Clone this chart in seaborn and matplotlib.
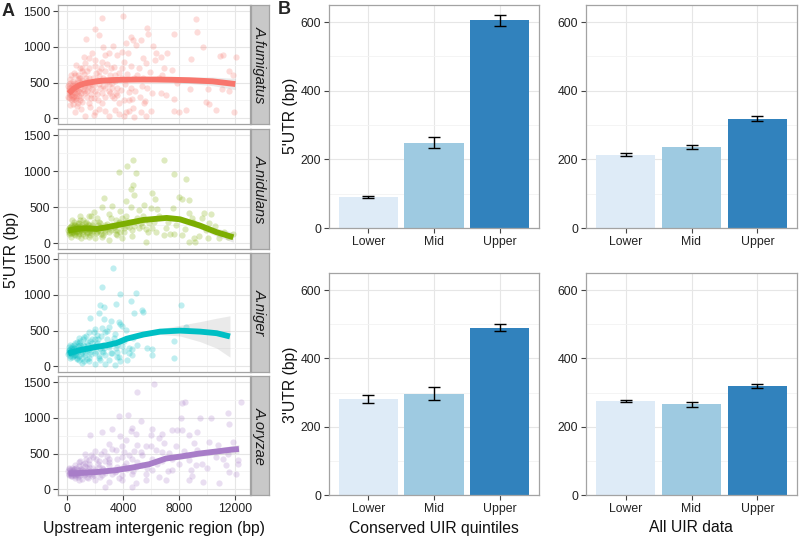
import numpy as np
import matplotlib
matplotlib.use('Agg')
import matplotlib.pyplot as plt
import seaborn as sns
from matplotlib.ticker import FixedLocator

sns.set_theme(style='white')
plt.rcParams['font.family'] = ['Liberation Sans', 'DejaVu Sans']

# ---------------- data: panel A (scatter) ----------------
species = ['A.fumigatus', 'A.nidulans', 'A.niger', 'A.oryzae']
species_colors = ['#F8766D', '#7CAE00', '#00BFC4', '#A87DC8']

fum_x = [2510, 3990, 1985, 2270, 1360, 5740, 5810, 9200, 9320, 7650, 4540, 4710, 4250, 4900, 5260, 6140,
         2580, 3270, 3900, 2750, 1790, 1550, 2990, 3540, 4370, 5420, 6330, 6690, 7170, 6270, 9730, 8870,
         10910, 11110, 12070, 645, 1075, 480, 2030, 2510, 4060, 4540, 5140, 5660, 6930, 6810, 7530, 1550,
         2270, 3420, 3940, 4780, 6570, 11590, 11830, 240, 2750, 3590, 5380, 7890, 8770, 10040, 11070, 11590,
         760, 1310, 2150, 3230, 3350, 4420, 6090, 6690, 4660, 7050, 7650, 9920, 10160, 480, 1075, 1550,
         2510, 3710, 4060, 5500, 5570, 1670, 2270, 2750, 3420, 4420, 4710, 5260, 5980, 7650, 8010, 8530,
         10640, 11950, 1310, 1910, 2990, 4060, 4780, 5620, 120, 170, 240, 360, 310, 410, 550, 720, 840,
         955, 790, 1195, 1430, 1790, 1670, 2030, 2270, 1910, 2510, 2990, 2870, 3230, 3470, 760, 955, 1310,
         1195, 2030, 2270, 2750, 3110, 1430, 720, 1030, 600, 2030, 3710, 4180, 170, 70, 480, 645,
         200, 300, 400, 500, 350, 150, 250, 600, 700, 900, 1000, 1100, 1200, 1400, 1600, 800, 300, 100, 450, 650,
         250, 400, 550, 700, 850, 950, 1100, 1250, 1300, 1450, 1600, 1700, 1850, 1950, 2100, 2200, 2350, 2450,
         2600, 2700, 2850, 3000, 3100, 3250, 3350, 3450, 3600, 3750, 3850, 3950, 4150, 4300, 4450, 4600, 4850,
         5000, 5200, 5450, 5700, 5900, 150, 200, 300, 350, 450, 520, 600, 680, 780, 880, 980, 1150, 1050, 1380,
         1500, 1700, 1820, 2150, 2550, 3100]
fum_y = [1408, 1435, 1256, 1164, 1118, 1270, 1178, 1390, 1210, 1178, 1140, 1104, 1058, 1026, 1095, 1017,
         1003, 1012, 934, 888, 920, 842, 911, 888, 911, 842, 911, 865, 920, 819, 994, 828,
         874, 888, 856, 750, 658, 635, 727, 796, 796, 727, 704, 773, 704, 612, 681, 566,
         589, 612, 566, 566, 566, 658, 612, 497, 428, 428, 451, 497, 414, 414, 414, 382,
         382, 359, 336, 313, 290, 368, 359, 359, 267, 322, 267, 230, 198, 267, 230, 221,
         221, 221, 258, 221, 244, 152, 129, 106, 120, 106, 138, 83, 106, 106, 83, 120,
         120, 92, 37, 46, 28, 28, 14, 37, 359, 290, 428, 336, 267, 474, 414, 497, 313,
         566, 221, 451, 520, 405, 497, 382, 474, 290, 359, 382, 506, 497, 359, 543, 704, 773,
         865, 819, 658, 658, 704, 658, 175, 129, 83, 83, 60, 83, 396, 451, 368, 313,
         320, 400, 300, 450, 250, 480, 550, 500, 350, 420, 300, 500, 380, 300, 420, 600, 600, 300, 200, 250,
         180, 520, 600, 430, 560, 250, 700, 620, 470, 380, 700, 280, 560, 460, 640, 250, 420, 710,
         560, 300, 760, 480, 600, 420, 720, 520, 330, 640, 400, 700, 480, 620, 250, 420, 380,
         600, 300, 560, 420, 650, 420, 370, 330, 450, 390, 310, 360, 290, 470, 380, 350, 410, 540, 560,
         450, 340, 480, 530, 450, 350]

nid_x = [4730, 6930, 4300, 3700, 4900, 7650, 8480, 4710, 4540, 6050, 4230, 4780, 6290, 8010, 8250, 8720,
         2630, 5500, 7580, 4540, 3230, 2510, 1910, 3820, 5140, 5980, 6450, 8720, 9800, 10280, 955, 1550,
         2990, 4180, 5420, 8960, 9610, 10110, 480, 1310, 2270, 3700, 4900, 5860, 7050, 600, 1550, 2990,
         4660, 5660, 6930, 7340, 7650, 8250, 9080, 9440, 10040, 10880, 11470, 11830, 8720, 9150, 5620, 2990,
         3940, 4660, 2030, 1310, 840, 2510, 3470, 120, 240, 360, 240, 480, 600, 720, 840, 1075, 1195,
         1430, 1670, 1790, 2030, 2150, 2390, 2630, 2750, 3110, 3350, 3590, 3820, 4060, 4300, 550, 885,
         1120, 1790, 2150, 2750, 3110, 3470, 3940, 4300, 5140, 5380, 6090, 6330, 170, 310, 1030, 1550,
         200, 300, 400, 500, 650, 700, 900, 1000, 1250, 1350, 1600, 1800, 2200, 2400, 100, 350, 800, 1500,
         150, 220, 280, 330, 420, 470, 530, 580, 640, 700, 760, 820, 880, 950, 1020, 1100, 1160, 1220,
         1300, 1380, 1450, 1520, 1580, 1650, 1720, 1850, 1950, 2050, 2250, 2350, 2450, 2550, 2700, 2850,
         3000, 3200, 3400, 3600, 3750, 3900, 4100, 4400, 4600, 4800, 5000, 5300, 5600, 5800, 6200, 6600,
         7200, 7800, 8400, 9000, 9900, 10600, 11200, 380, 900, 1700]
nid_y = [1159, 1159, 1072, 989, 980, 966, 897, 814, 750, 704, 584, 676, 612, 644, 621, 598,
         630, 538, 492, 506, 520, 506, 428, 446, 460, 483, 474, 414, 414, 400, 382, 382,
         400, 382, 382, 345, 354, 276, 299, 276, 299, 276, 299, 276, 207, 207, 216, 207,
         184, 198, 115, 124, 124, 115, 69, 106, 78, 78, 87, 124, 23, 23, 23, 46,
         69, 106, 69, 106, 124, 92, 124, 161, 184, 138, 230, 161, 115, 207, 170, 152, 207,
         161, 184, 138, 207, 161, 170, 207, 152, 184, 230, 184, 152, 207, 244, 253, 276,
         322, 253, 354, 253, 345, 322, 345, 313, 207, 244, 216, 161, 124, 92, 69, 92,
         200, 170, 220, 190, 150, 240, 200, 230, 180, 240, 150, 200, 250, 130, 180, 260, 100, 270,
         210, 140, 240, 200, 160, 250, 130, 190, 230, 170, 280, 210, 140, 240, 190, 260, 130, 220,
         190, 290, 140, 200, 250, 110, 230, 170, 300, 140, 190, 280, 220, 120, 180, 270,
         150, 260, 180, 110, 300, 240, 160, 220, 300, 240, 350, 280, 330, 160, 290, 380,
         300, 260, 200, 300, 180, 240, 160, 320, 330, 380]

nig_x = [3270, 2510, 3820, 4900, 4540, 3470, 2390, 2630, 8130, 2270, 5380, 5420, 4780, 1670, 2630, 3700,
         3820, 3180, 8480, 2510, 2990, 2030, 1550, 2750, 4180, 7650, 2030, 840, 1195, 3350, 3820, 5740,
         6090, 4420, 4060, 4610, 6090, 7650, 4300, 3590, 2990, 2270, 1550, 840, 1310, 480, 240, 600,
         955, 1430, 1790, 2150, 2630, 2990, 3470, 1670, 2030, 2510, 3110, 3590, 3820, 3420, 2750, 2030,
         1075, 360, 170, 120, 310, 720, 1075, 1790, 2150, 2390, 645, 1310, 2870, 3230, 3940, 4660,
         200, 300, 400, 500, 650, 750, 900, 1000, 1150, 1400, 1600, 1800, 2100, 2300, 2600, 100, 350, 850,
         150, 220, 280, 330, 420, 470, 530, 580, 640, 700, 760, 820, 880, 950, 1020, 1100, 1160, 1220,
         1300, 1380, 1450, 1520, 1580, 1650, 1720, 1850, 1950, 2050, 2250, 2350, 2450, 2550, 2700, 2850,
         3000, 3200, 3400, 3600, 3750, 3900, 4100, 4400, 4700, 5000, 120, 250, 180, 380, 600, 1250]
nig_y = [1380, 1118, 1012, 1026, 920, 874, 856, 828, 856, 750, 796, 764, 750, 672, 658, 626,
         598, 635, 552, 543, 552, 520, 474, 474, 506, 354, 382, 391, 414, 400, 354, 253,
         244, 253, 216, 161, 152, 115, 92, 124, 92, 115, 69, 92, 152, 161, 207, 253,
         299, 336, 276, 322, 253, 299, 253, 207, 184, 216, 184, 207, 69, 23, 37, 37,
         46, 124, 184, 230, 253, 345, 207, 382, 437, 253, 152, 244, 382, 345, 290, 244,
         150, 220, 180, 250, 200, 120, 260, 170, 300, 230, 120, 330, 220, 150, 300, 170, 280, 330,
         230, 120, 180, 260, 140, 200, 300, 160, 240, 100, 210, 280, 150, 350, 230, 120, 380, 280,
         190, 430, 100, 300, 240, 360, 170, 270, 480, 300, 380, 90, 420, 200, 160, 500,
         270, 180, 450, 300, 130, 560, 350, 190, 400, 300, 270, 300, 200, 230, 330, 80]

ory_x = [6210, 5020, 8250, 8440, 12430, 11470, 11590, 3700, 4370, 5260, 8130, 9490, 10280, 4660, 4540, 6090,
         7530, 7890, 8200, 1670, 2510, 3230, 3820, 4900, 5980, 6810, 6570, 8720, 9320, 4180, 5020, 2990,
         5620, 6930, 9080, 10160, 11830, 1310, 2030, 2630, 3470, 4060, 4780, 6330, 7290, 8370, 7530, 3940,
         5380, 6090, 6810, 8010, 8720, 9200, 9610, 10640, 11110, 11350, 12190, 12070, 11590, 8840, 8900, 8720,
         9680, 10880, 7050, 6570, 5620, 5620, 4900, 4660, 2750, 2990, 3940, 2030, 1430, 840, 1790, 2510,
         3230, 3940, 4660, 600, 1075, 1550, 2270, 2990, 3590, 4300, 4900, 5380, 840, 1550, 2270, 2990,
         240, 120, 360, 480, 720, 955, 1195, 2030, 2630, 3470, 4180, 6090, 7530, 4660, 2750, 550, 120,
         1260, 1840, 200, 300, 400, 500, 650, 800, 900, 1000, 1200, 1400, 1600, 1800, 2200, 2500, 100, 350,
         600, 1300,
         150, 220, 280, 330, 420, 470, 530, 580, 640, 700, 760, 820, 880, 950, 1020, 1100, 1160, 1220,
         1300, 1380, 1450, 1520, 1580, 1650, 1720, 1850, 1950, 2050, 2250, 2350, 2450, 2550, 2700, 2850,
         3000, 3200, 3400, 3600, 3750, 3900, 4100, 4400, 4700, 5000, 5300, 5700, 6000, 6400, 6800, 7200,
         7800, 8500, 9300, 10000, 10800, 11500, 12200, 120, 350, 900]
ory_y = [1477, 1362, 1214, 1223, 1223, 1063, 912, 1022, 1035, 962, 994, 1003, 994, 856, 814, 846,
         833, 833, 833, 759, 805, 846, 740, 773, 764, 773, 718, 764, 805, 695, 626, 640,
         612, 644, 644, 658, 667, 492, 538, 543, 552, 520, 543, 552, 506, 543, 428, 451,
         474, 428, 396, 359, 405, 336, 359, 451, 428, 336, 414, 221, 244, 267, 184, 129,
         106, 92, 129, 175, 129, 221, 83, 37, 37, 106, 129, 129, 175, 129, 221, 198,
         221, 198, 212, 198, 267, 313, 313, 336, 313, 290, 313, 336, 382, 405, 396, 428,
         244, 221, 267, 290, 221, 198, 230, 267, 258, 258, 368, 267, 267, 428, 396, 336, 290,
         368, 451, 230, 200, 260, 220, 240, 200, 280, 250, 200, 260, 220, 180, 240, 300, 250, 300,
         180, 320,
         200, 270, 180, 240, 210, 290, 250, 160, 300, 220, 270, 170, 330, 230, 290, 150, 360, 260,
         210, 420, 300, 160, 350, 250, 480, 300, 200, 420, 350, 170, 500, 280, 230, 470,
         380, 560, 240, 420, 160, 600, 330, 480, 260, 380, 520, 300, 600, 350, 520, 250,
         600, 480, 550, 300, 620, 500, 350, 300, 180, 400]

# fitted smooth curves and ribbon half widths
fum_cx = [120, 500, 840, 1200, 1550, 2000, 2510, 3200, 3940, 5000, 6330, 7500, 8720, 10400, 12020]
fum_cy = [350, 420, 460, 485, 500, 515, 527, 536, 540, 543, 543, 540, 534, 518, 480]
fum_hw = [40, 28, 22, 20, 18, 18, 20, 22, 25, 28, 30, 35, 45, 60, 80]

nid_cx = [95, 690, 1405, 2120, 2830, 4020, 5450, 7120, 8070, 9500, 10690, 11880]
nid_cy = [176, 199, 208, 199, 222, 268, 324, 352, 333, 245, 153, 83]
nid_hw = [25, 15, 15, 15, 18, 22, 28, 35, 40, 45, 55, 70]

nig_cx = [95, 930, 1880, 2830, 3550, 4260, 5450, 6640, 8070, 9500, 10690, 11640]
nig_cy = [182, 227, 264, 295, 327, 386, 445, 486, 500, 486, 464, 418]
nig_hw = [30, 20, 18, 18, 20, 22, 28, 40, 75, 140, 210, 290]

ory_cx = [118, 1176, 2350, 3530, 4700, 5880, 7060, 8240, 9410, 10590, 11760, 12280]
ory_cy = [222, 231, 245, 269, 306, 352, 431, 463, 500, 528, 556, 565]
ory_hw = [20, 15, 15, 18, 20, 25, 30, 35, 40, 45, 55, 60]

# ---------------- data: panel B (bars) ----------------
quintiles = ['Lower', 'Mid', 'Upper']
bar_colors = ['#deebf7', '#9ecae1', '#3182bd']
utr5_cons = [90, 249, 605]
utr5_cons_err = [4, 15, 16]
utr5_all = [214, 236, 319]
utr5_all_err = [4, 6, 7]
utr3_cons = [280, 297, 490]
utr3_cons_err = [12, 19, 10]
utr3_all = [275, 265, 320]
utr3_all_err = [4, 6, 6]

# ---------------- figure ----------------
W, H = 800, 542
fig = plt.figure(figsize=(8, 5.42), dpi=100)


def px_axes(l, t, r, b):
    return fig.add_axes([l / W, 1 - b / H, (r - l) / W, (b - t) / H])


def style(ax):
    for s in ax.spines.values():
        s.set_color('#a3a3a3')
        s.set_linewidth(0.9)
    ax.tick_params(axis='both', which='major', direction='out', length=3.5, width=0.8,
                   color='#444444', labelsize=8.8, labelcolor='#222222', pad=2,
                   bottom=True, left=True)
    ax.tick_params(which='minor', length=0)
    ax.grid(which='major', color='#e6e6e6', lw=0.8)
    ax.grid(which='minor', color='#f3f3f3', lw=0.6)
    ax.set_axisbelow(True)
    ax.set_xlabel('')
    ax.set_ylabel('')


facet_rects = [(58, 5, 250, 124), (58, 129, 250, 249), (58, 253, 250, 372), (58, 376, 250, 495)]
pts = [(fum_x, fum_y), (nid_x, nid_y), (nig_x, nig_y), (ory_x, ory_y)]
curves = [(fum_cx, fum_cy, fum_hw), (nid_cx, nid_cy, nid_hw), (nig_cx, nig_cy, nig_hw), (ory_cx, ory_cy, ory_hw)]

for i, (rect, name, col, (px, py), (cx, cy, hw)) in enumerate(zip(facet_rects, species, species_colors, pts, curves)):
    l, t, r, b = rect
    ax = px_axes(l, t, r, b)
    sns.scatterplot(x=px, y=py, ax=ax, color=col, alpha=0.25, s=20, linewidth=0, zorder=2)
    cx = np.array(cx); cy = np.array(cy); hw = np.array(hw)
    ax.fill_between(cx, cy - hw, cy + hw, color='#999999', alpha=0.2, lw=0, zorder=3)
    sns.lineplot(x=cx, y=cy, ax=ax, color=col, lw=4.2, zorder=4, solid_capstyle='butt')
    ax.set_xlim(-640, 13070)
    ax.set_ylim(-80, 1588)
    ax.xaxis.set_major_locator(FixedLocator([0, 4000, 8000, 12000]))
    ax.xaxis.set_minor_locator(FixedLocator([2000, 6000, 10000]))
    ax.yaxis.set_major_locator(FixedLocator([0, 500, 1000, 1500]))
    ax.yaxis.set_minor_locator(FixedLocator([250, 750, 1250]))
    style(ax)
    if i < 3:
        ax.tick_params(axis='x', length=0, labelbottom=False)
    # strip
    sax = px_axes(r + 0.5, t, 269, b)
    sax.set_facecolor('#c8c8c8')
    for s in sax.spines.values():
        s.set_color('#a3a3a3')
        s.set_linewidth(0.9)
    sax.set_xticks([]); sax.set_yticks([])
    sax.text(0.5, 0.5, name, rotation=-90, style='italic', fontsize=10.5, color='#1a1a1a',
             ha='center', va='center', transform=sax.transAxes)

bar_rects = [(329, 5, 539, 228), (586, 5, 797, 228), (329, 273, 539, 495), (586, 273, 797, 495)]
bar_data = [(utr5_cons, utr5_cons_err), (utr5_all, utr5_all_err),
            (utr3_cons, utr3_cons_err), (utr3_all, utr3_all_err)]

for rect, (vals, errs) in zip(bar_rects, bar_data):
    ax = px_axes(*rect)
    sns.barplot(x=quintiles, y=vals, hue=quintiles, palette=bar_colors, saturation=1,
                width=0.9, errorbar=None, legend=False, ax=ax, linewidth=0)
    ax.errorbar(np.arange(len(vals)), vals, yerr=errs, fmt='none', ecolor='black',
                elinewidth=1.0, capsize=4.3, capthick=1.0, zorder=5)
    ax.set_xlim(-0.6, 2.6)
    ax.set_ylim(0, 650)
    ax.yaxis.set_major_locator(FixedLocator([0, 200, 400, 600]))
    ax.yaxis.set_minor_locator(FixedLocator([100, 300, 500]))
    style(ax)

# labels
fig.text(8 / W, 1 - 11 / H, 'A', weight='bold', fontsize=13, ha='center', va='center')
fig.text(284 / W, 1 - 10 / H, 'B', weight='bold', fontsize=13, ha='center', va='center')
fig.text(12 / W, 1 - 250 / H, "5'UTR (bp)", rotation=90, fontsize=11.3, ha='center', va='center', color='#111111')
fig.text(154 / W, 1 - 528 / H, 'Upstream intergenic region (bp)', fontsize=11.3, ha='center', va='center', color='#111111')
fig.text(291 / W, 1 - 116 / H, "5'UTR (bp)", rotation=90, fontsize=11.3, ha='center', va='center', color='#111111')
fig.text(291 / W, 1 - 385 / H, "3'UTR (bp)", rotation=90, fontsize=11.3, ha='center', va='center', color='#111111')
fig.text(434 / W, 1 - 528 / H, 'Conserved UIR quintiles', fontsize=11.3, ha='center', va='center', color='#111111')
fig.text(691 / W, 1 - 528 / H, 'All UIR data', fontsize=11.3, ha='center', va='center', color='#111111')

fig.savefig('out.png', dpi=100, facecolor='white')
